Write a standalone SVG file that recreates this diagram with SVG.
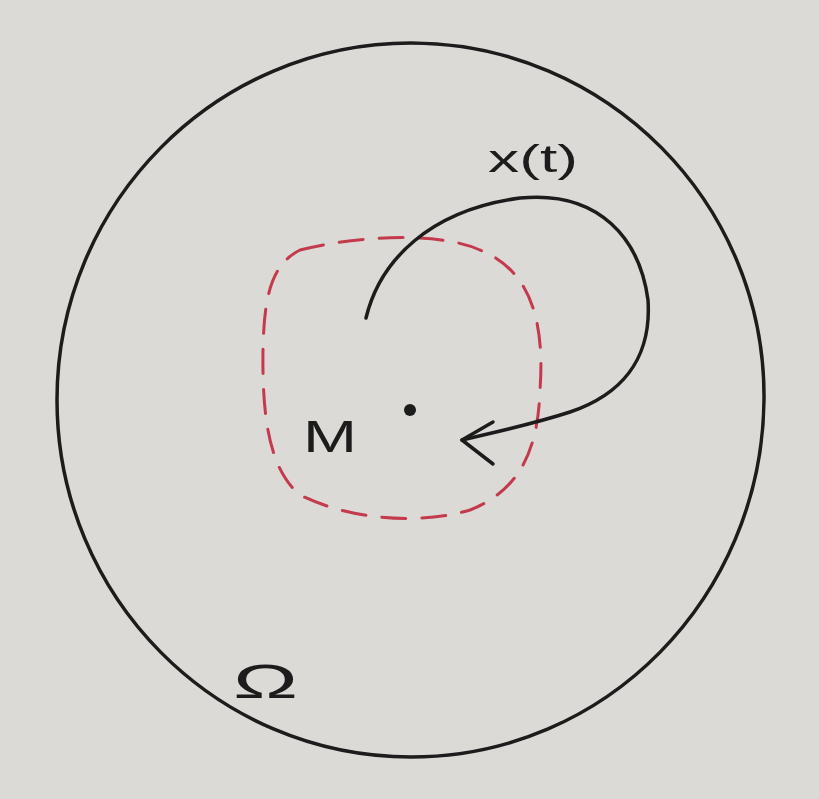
<svg xmlns="http://www.w3.org/2000/svg" width="819" height="799" viewBox="0 0 819 799">
<style>
.ink{fill:none;stroke:#1c1c1c;stroke-width:3.5;stroke-linecap:round;stroke-linejoin:round}
.red{fill:none;stroke:#c43a4c;stroke-width:3;stroke-dasharray:24 16;stroke-linecap:round}
.lbl{font-family:"Liberation Sans",Arial,sans-serif;fill:#1c1c1c}
</style>
<rect width="819" height="799" fill="#dcdad6"/>
<g id="omega-domain">
<path class="ink" d="M 411 43 C 606 43 766 203 764 400 C 762 597 606 757 411 757 C 216 757 57 597 57 400 C 57 203 216 43 411 43 Z"/>
<text class="lbl" x="233" y="698" font-size="48" textLength="65" lengthAdjust="spacingAndGlyphs">Ω</text>
</g>
<g id="M-region">
<path class="red" d="M 300 250 C 360 235 440 232 480 250 C 530 270 545 320 540 390 C 538 450 520 490 470 510 C 420 525 350 520 300 495 C 270 470 262 420 263 350 C 264 300 270 265 300 250 Z"/>
<circle cx="410" cy="410" r="6" fill="#1c1c1c"/>
<text class="lbl" x="303" y="452" font-size="44" textLength="54" lengthAdjust="spacingAndGlyphs">M</text>
</g>
<g id="connectors">
<path class="ink" d="M 366 318 C 380 260 430 210 520 198 C 600 190 640 240 648 300 C 652 360 620 395 570 412 C 530 425 495 432 462 440"/>
<path class="ink" d="M 493 422 L 462 440 L 493 464"/>
<text class="lbl" x="488" y="172" font-size="38" textLength="90" lengthAdjust="spacingAndGlyphs">x(t)</text>
</g>
</svg>
